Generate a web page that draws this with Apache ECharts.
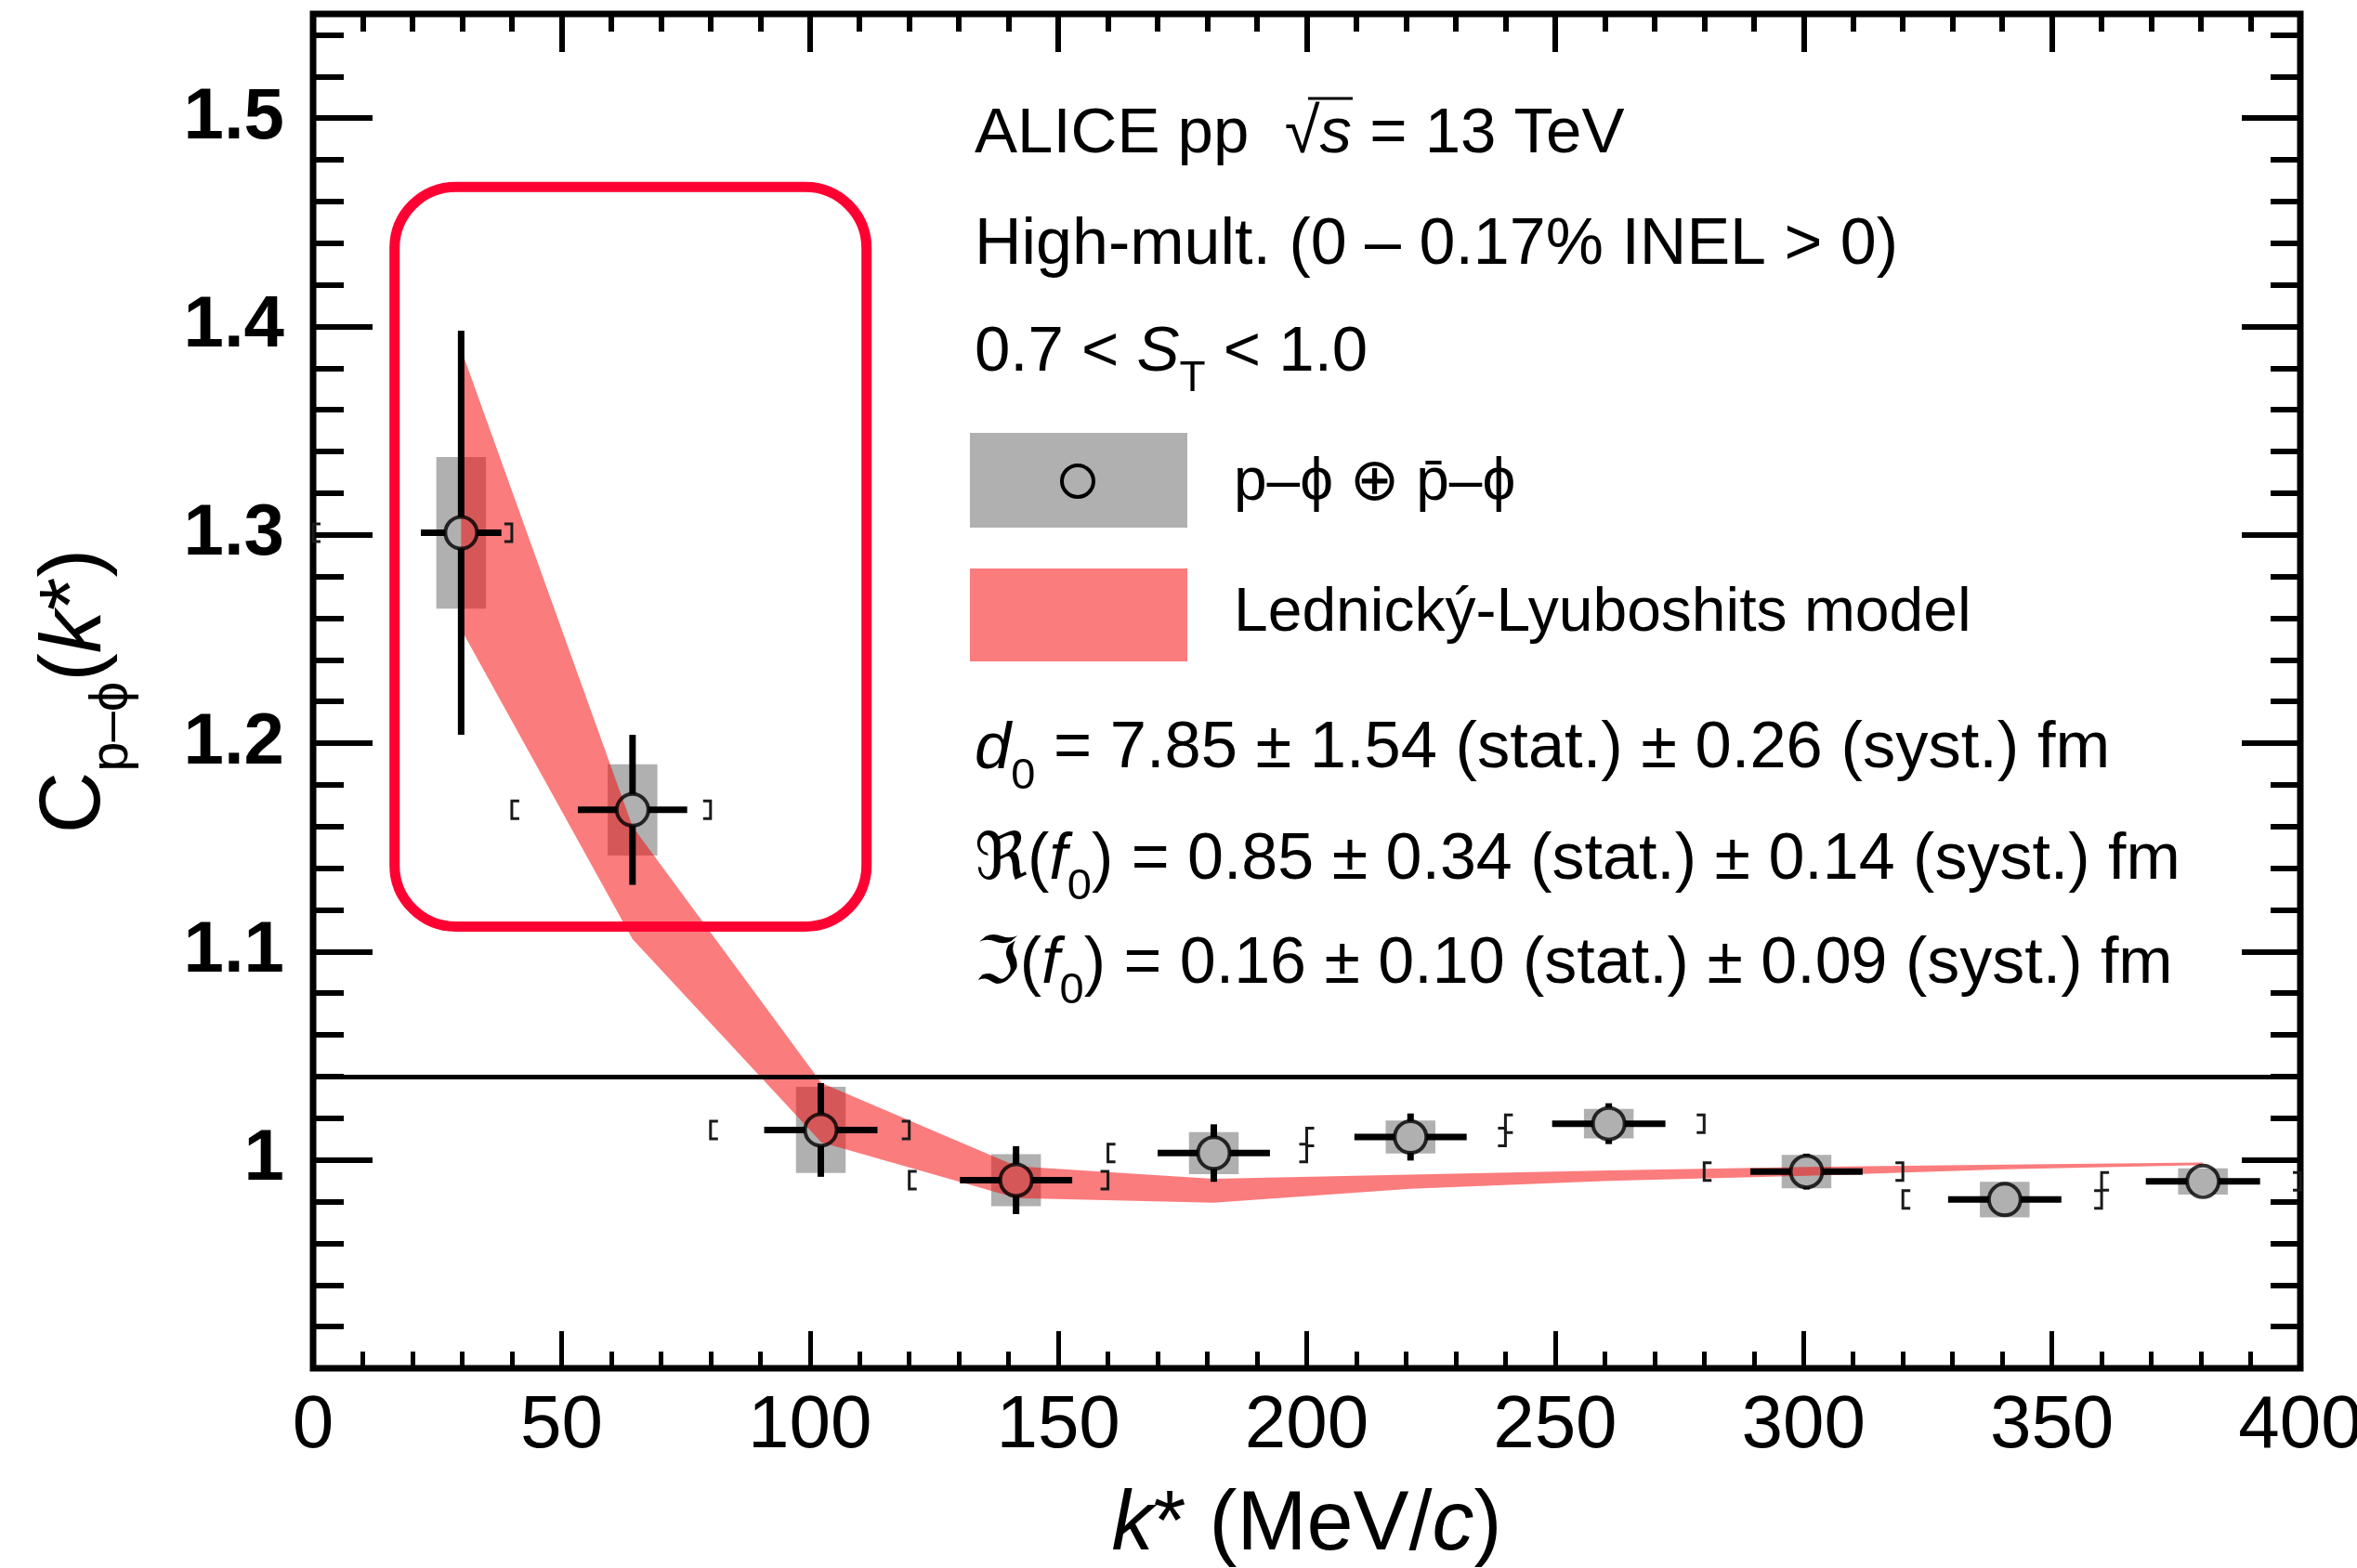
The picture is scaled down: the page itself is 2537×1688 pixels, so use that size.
<!DOCTYPE html>
<html>
<head>
<meta charset="utf-8">
<title>p–ϕ correlation function</title>
<script src="https://cdn.jsdelivr.net/npm/echarts@6/dist/echarts.min.js"></script>
<style>
  html, body { margin: 0; padding: 0; background: #ffffff; }
  #chart { width: 2537px; height: 1688px; }
</style>
</head>
<body>
<div id="chart"></div>
<script>
// ---- measured p–ϕ ⊕ p̄–ϕ correlation, ALICE pp 13 TeV high multiplicity ----
const kStar   = [29.8, 64.3, 102.2, 141.5, 181.3, 220.9, 260.8, 300.6, 340.5, 380.4];
const corr    = [1.301, 1.168, 1.0144, 0.9903, 1.0033, 1.011, 1.0174, 0.9944, 0.981, 0.9897];
const statErr = [0.097, 0.036, 0.0225, 0.0163, 0.0138, 0.0113, 0.0098, 0.0086, 0.005, 0.005];
const sysErr  = [0.0364, 0.0219, 0.0207, 0.0125, 0.0101, 0.0079, 0.0071, 0.008, 0.0085, 0.0063];
const kErr    = [8.1, 11.0, 11.4, 11.3, 11.3, 11.3, 11.4, 11.3, 11.4, 11.5];
const binLow  = [0, 40, 80, 120, 160, 200, 240, 280, 320, 360];
const binHigh = [40, 80, 120, 160, 200, 240, 280, 320, 360, 400];

// ---- Lednický–Lyuboshits model band (upper / lower edge) ----
const modelK     = [29.8, 64.3, 102.3, 141.6, 181.2, 220.9, 260.8, 300.6, 340.5, 380.4];
const modelUpper = [1.389, 1.160, 1.037, 0.997, 0.991, 0.993, 0.995, 0.9966, 0.9977, 0.9988];
const modelLower = [1.2546, 1.106, 1.0085, 0.9817, 0.9795, 0.9862, 0.9899, 0.9924, 0.9955, 0.9975];

// ---- reference line and highlighted low-k* region ----
const baselineC  = [1.04];
const highlightK = [16.4, 111.4];
const highlightC = [1.112, 1.467];

// ---- axes ----
const xRange = [0, 400];
const xMajorStep = 50;
const xMinorStep = 10;
const yRange = [0.9, 1.55];
const yMajorStep = 0.1;
const yMinorStep = 0.02;
const yLabelValues = [1, 1.1, 1.2, 1.3, 1.4, 1.5];

// ---- style constants ----
const FONT = '"Liberation Sans", Arial, Helvetica, sans-serif';
const SYM_FONT = '"Liberation Sans", "DejaVu Sans", sans-serif';
const MARKER_SIZE = 34;
const SYS_HALF_K = 5;        // half width of the systematic boxes in k* units
const BAND_COLOR = 'rgba(247,7,10,0.53)';
const SYS_COLOR = '#b0b0b0';

const chart = echarts.init(document.getElementById('chart'), null, { renderer: 'canvas' });

function fmtY(v) {
  for (const t of yLabelValues) {
    if (Math.abs(v - t) < 1e-6) return t === 1 ? '1' : t.toFixed(1);
  }
  return '';
}

const tickLine = (w) => ({ color: '#000', width: w });

function xAxisDef(pos, showLabel, major, minor, w) {
  return {
    type: 'value', position: pos, min: xRange[0], max: xRange[1], interval: xMajorStep,
    axisLine: { show: false }, splitLine: { show: false },
    axisTick: { show: true, inside: true, length: major, lineStyle: tickLine(w) },
    minorTick: { show: true, splitNumber: xMajorStep / xMinorStep, length: minor, lineStyle: tickLine(w) },
    axisLabel: showLabel ? {
      show: true, margin: 23, fontSize: 80, fontFamily: FONT, color: '#000'
    } : { show: false },
    nameMoveOverlap: false
  };
}

function yAxisDef(pos, step, len, showLabel) {
  return {
    type: 'value', position: pos, min: yRange[0], max: yRange[1], interval: step,
    axisLine: { show: false }, splitLine: { show: false },
    axisTick: { show: true, inside: true, length: len, lineStyle: tickLine(6) },
    axisLabel: showLabel ? {
      show: true, margin: 31, fontSize: 78, fontWeight: 'bold', fontFamily: FONT, color: '#000',
      formatter: fmtY
    } : { show: false },
    nameMoveOverlap: false
  };
}

const xBottom = xAxisDef('bottom', true, 40, 18, 5);
xBottom.name = '{i|k}{m|* (MeV/}{i|c}{m|)}';
xBottom.nameLocation = 'middle';
xBottom.nameGap = 120;
xBottom.nameTextStyle = {
  color: '#000',
  rich: {
    i: { fontSize: 90, fontStyle: 'italic', fontFamily: FONT, color: '#000', lineHeight: 100 },
    m: { fontSize: 90, fontFamily: FONT, color: '#000', lineHeight: 100 }
  }
};

const yLeft = yAxisDef('left', yMajorStep, 64, true);
yLeft.name = '{c|C}{s|p–ϕ}{m|(}{i|k}{m|*)}';
yLeft.nameLocation = 'middle';
yLeft.nameRotate = 90;
yLeft.nameGap = 205;
yLeft.nameTextStyle = {
  color: '#000',
  rich: {
    c: { fontSize: 92, fontFamily: FONT, color: '#000', lineHeight: 100 },
    m: { fontSize: 92, fontFamily: FONT, color: '#000', lineHeight: 100 },
    i: { fontSize: 92, fontFamily: FONT, fontStyle: 'italic', color: '#000', lineHeight: 100 },
    s: { fontSize: 58, fontFamily: SYM_FONT, color: '#000', height: 22, lineHeight: 22, verticalAlign: 'bottom' }
  }
};

// rich styles for the annotation block, built for a given font size
function richFor(size) {
  const lh = Math.round(size * 1.16);
  const sub = Math.round(size * 0.667);
  return {
    n: { fontSize: size, fontFamily: FONT, color: '#000', lineHeight: lh },
    y: { fontSize: size, fontFamily: SYM_FONT, color: '#000', lineHeight: lh },
    i: { fontSize: size, fontFamily: FONT, fontStyle: 'italic', color: '#000', lineHeight: lh },
    sub: { fontSize: sub, fontFamily: FONT, color: '#000', height: 24, lineHeight: 24, verticalAlign: 'bottom' }
  };
}
function textEl(x, y, text, size) {
  return {
    type: 'text', x: x, y: y, z: 200, silent: true,
    style: { text: text, rich: richFor(size), verticalAlign: 'middle', align: 'left', fill: '#000' }
  };
}

const option = {
  animation: false,
  backgroundColor: '#ffffff',
  grid: {
    left: 337, top: 15, width: 2139, height: 1458,
    show: true, borderColor: '#000', borderWidth: 7, backgroundColor: 'transparent',
    containLabel: false, outerBoundsMode: 'none'
  },
  xAxis: [
    xBottom,
    xAxisDef('top', false, 41, 19, 6)
  ],
  yAxis: [
    yLeft,
    yAxisDef('left', yMinorStep, 33, false),
    yAxisDef('right', yMajorStep, 63, false),
    yAxisDef('right', yMinorStep, 32, false)
  ],
  series: [
    // systematic uncertainty boxes
    {
      type: 'custom', z: 2, silent: true,
      encode: { x: 0, y: 1 },
      data: kStar.map((k, i) => [k, corr[i], sysErr[i]]),
      renderItem: function (params, api) {
        const k = api.value(0), c = api.value(1), e = api.value(2);
        const p0 = api.coord([k - SYS_HALF_K, c + e]);
        const p1 = api.coord([k + SYS_HALF_K, c - e]);
        return {
          type: 'rect',
          shape: { x: p0[0], y: p0[1], width: p1[0] - p0[0], height: p1[1] - p0[1] },
          style: { fill: SYS_COLOR }
        };
      }
    },
    // model band
    {
      type: 'custom', z: 3, silent: true,
      encode: { x: 0, y: 1 },
      data: [[modelK[0], modelUpper[0]]],
      renderItem: function (params, api) {
        const pts = [];
        for (let i = 0; i < modelK.length; i++) pts.push(api.coord([modelK[i], modelUpper[i]]));
        for (let i = modelK.length - 1; i >= 0; i--) pts.push(api.coord([modelK[i], modelLower[i]]));
        return { type: 'polygon', shape: { points: pts }, style: { fill: BAND_COLOR } };
      }
    },
    // bin-edge brackets
    {
      type: 'custom', z: 4, silent: true,
      encode: { x: 0, y: 2 },
      data: kStar.map((k, i) => [binLow[i], binHigh[i], corr[i]]),
      renderItem: function (params, api) {
        const lo = api.coord([api.value(0), api.value(2)]);
        const hi = api.coord([api.value(1), api.value(2)]);
        const h = 9.5, a = 8;
        const st = { stroke: '#1a1a1a', lineWidth: 3, fill: null };
        return {
          type: 'group',
          children: [
            { type: 'polyline', shape: { points: [[lo[0] + a, lo[1] - h], [lo[0], lo[1] - h], [lo[0], lo[1] + h], [lo[0] + a, lo[1] + h]] }, style: st },
            { type: 'polyline', shape: { points: [[hi[0] - a, hi[1] - h], [hi[0], hi[1] - h], [hi[0], hi[1] + h], [hi[0] - a, hi[1] + h]] }, style: st }
          ]
        };
      }
    },
    // statistical error bars (stopping at the marker edge)
    {
      type: 'custom', z: 5, silent: true,
      encode: { x: 0, y: 1 },
      data: kStar.map((k, i) => [k, corr[i], statErr[i], kErr[i]]),
      renderItem: function (params, api) {
        const k = api.value(0), c = api.value(1), ey = api.value(2), ex = api.value(3);
        const ctr = api.coord([k, c]);
        const top = api.coord([k, c + ey]);
        const bot = api.coord([k, c - ey]);
        const lft = api.coord([k - ex, c]);
        const rgt = api.coord([k + ex, c]);
        const r = MARKER_SIZE / 2;
        const segs = [];
        if (ctr[1] - top[1] > r) segs.push([ctr[0], ctr[1] - r, ctr[0], top[1]]);
        if (bot[1] - ctr[1] > r) segs.push([ctr[0], ctr[1] + r, ctr[0], bot[1]]);
        if (ctr[0] - lft[0] > r) segs.push([ctr[0] - r, ctr[1], lft[0], ctr[1]]);
        if (rgt[0] - ctr[0] > r) segs.push([ctr[0] + r, ctr[1], rgt[0], ctr[1]]);
        return {
          type: 'group',
          children: segs.map(s => ({
            type: 'line', shape: { x1: s[0], y1: s[1], x2: s[2], y2: s[3] },
            style: { stroke: '#000', lineWidth: 7 }
          }))
        };
      }
    },
    // open circle markers + horizontal reference line
    {
      type: 'scatter', z: 6, silent: true,
      symbol: 'circle', symbolSize: MARKER_SIZE,
      itemStyle: { color: 'rgba(0,0,0,0)', borderColor: '#000', borderWidth: 4 },
      data: kStar.map((k, i) => [k, corr[i]]),
      markLine: {
        silent: true, symbol: 'none', animation: false,
        label: { show: false },
        lineStyle: { color: '#000', width: 5, type: 'solid' },
        data: baselineC.map(v => ({ yAxis: v }))
      }
    },
    // highlighted low-k* region
    {
      type: 'custom', z: 10, silent: true,
      encode: { x: 0, y: 1 },
      data: [[highlightK[0], highlightC[1], highlightK[1], highlightC[0]]],
      renderItem: function (params, api) {
        const p0 = api.coord([api.value(0), api.value(1)]);
        const p1 = api.coord([api.value(2), api.value(3)]);
        return {
          type: 'rect',
          shape: { x: p0[0], y: p0[1], width: p1[0] - p0[0], height: p1[1] - p0[1], r: 66 },
          style: { fill: null, stroke: '#ff0033', lineWidth: 11 }
        };
      }
    }
  ],
  graphic: {
    elements: [
      textEl(1049, 145, '{n|ALICE pp  }{y|√}{i|s}{n| = 13 TeV}', 69),
      { type: 'line', z: 200, silent: true, shape: { x1: 1408, y1: 106, x2: 1456, y2: 106 }, style: { stroke: '#000', lineWidth: 3 } },
      textEl(1049, 265, '{n|High-mult. (0 – 0.17% INEL > 0)}', 70),
      textEl(1049, 380, '{n|0.7 < }{i|S}{sub|T}{n| < 1.0}', 69),
      // legend entries
      { type: 'rect', z: 150, silent: true, shape: { x: 1044, y: 466, width: 234, height: 102 }, style: { fill: SYS_COLOR } },
      { type: 'circle', z: 151, silent: true, shape: { cx: 1160, cy: 518, r: 17 }, style: { fill: null, stroke: '#000', lineWidth: 4 } },
      textEl(1328, 520, '{y|p–ϕ ⊕ p̄–ϕ}', 64),
      { type: 'rect', z: 150, silent: true, shape: { x: 1044, y: 612, width: 234, height: 100 }, style: { fill: BAND_COLOR } },
      textEl(1328, 661, '{n|Lednický-Lyuboshits model}', 66),
      // fit results
      textEl(1049, 807, '{i|d}{sub|0}{n| = 7.85 ± 1.54 (stat.) ± 0.26 (syst.) fm}', 70.5),
      textEl(1049, 927, '{y|ℜ}{n|(}{i|f}{sub|0}{n|) = 0.85 ± 0.34 (stat.) ± 0.14 (syst.) fm}', 70),
      textEl(1049, 1039, '{y|ℑ}{n|(}{i|f}{sub|0}{n|) = 0.16 ± 0.10 (stat.) ± 0.09 (syst.) fm}', 70)
    ]
  }
};

chart.setOption(option);
</script>
</body>
</html>
